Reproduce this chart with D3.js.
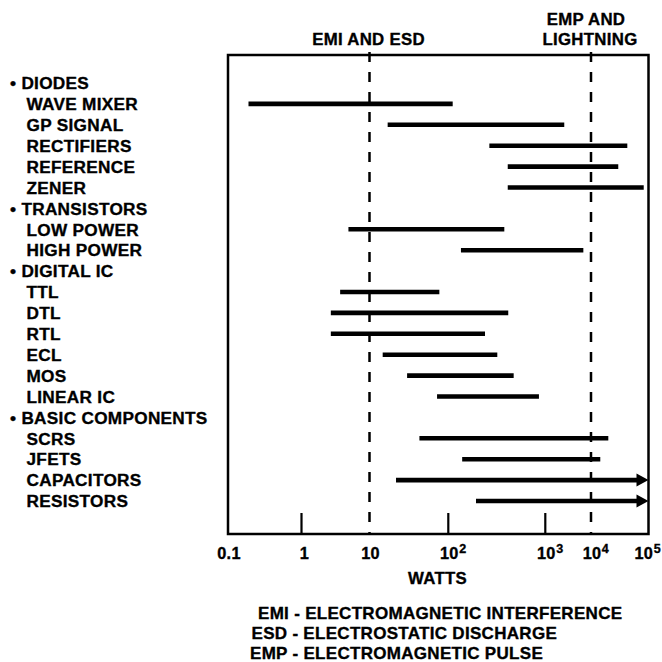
<!DOCTYPE html>
<html lang="en">
<head>
    <meta charset="UTF-8">
    <title>Transient Power Susceptibility</title>
    <style>
        body { margin: 0; background: #fff; }
        svg text {
            font-family: "Liberation Sans", Arial, sans-serif;
            font-weight: bold;
            fill: #000;
            stroke: #000;
            stroke-width: 0.35px;
            letter-spacing: 0.3px;
        }
    </style>
    <script src="https://d3js.org/d3.v7.min.js"></script>
</head>
<body>
    <div id="chart"></div>
    <script>
// rows of the chart, top to bottom
const labels = ["DIODES", "WAVE MIXER", "GP SIGNAL", "RECTIFIERS", "REFERENCE", "ZENER",
    "TRANSISTORS", "LOW POWER", "HIGH POWER",
    "DIGITAL IC", "TTL", "DTL", "RTL", "ECL", "MOS", "LINEAR IC",
    "BASIC COMPONENTS", "SCRS", "JFETS", "CAPACITORS", "RESISTORS"];
const groups = ["DIODES", "TRANSISTORS", "DIGITAL IC", "BASIC COMPONENTS"];

// damage ranges in watts
const devices = ["WAVE MIXER", "GP SIGNAL", "RECTIFIERS", "REFERENCE", "ZENER",
    "LOW POWER", "HIGH POWER", "TTL", "DTL", "RTL", "ECL", "MOS", "LINEAR IC",
    "SCRS", "JFETS", "CAPACITORS", "RESISTORS"];
const lowWatts = [0.19, 17, 265, 410, 410, 4.9, 135, 3.7, 2.7, 2.7, 14.7, 30, 72, 43, 139, 21.7, 193];
const highWatts = [111, 2600, 42800, 29800, 82600, 378, 6800, 77, 415, 239, 320, 472, 860, 20000, 14500, 100000, 100000];
const openEnded = ["CAPACITORS", "RESISTORS"];

// axis
const decades = [0.1, 1, 10, 100, 1000, 10000, 100000];
const tickBase = ["0.1", "1", "10", "10", "10", "10", "10"];
const tickExp = ["", "", "", "2", "3", "4", "5"];
const tickMarks = [1, 100, 1000];
const thresholds = [10, 10000];
const thresholdLabels = [["EMI AND ESD"], ["EMP AND", "LIGHTNING"]];

const notes = ["EMI - ELECTROMAGNETIC INTERFERENCE",
    "ESD - ELECTROSTATIC DISCHARGE",
    "EMP - ELECTROMAGNETIC PULSE"];

const W = 662, H = 662;
const svg = d3.select("#chart").append("svg")
    .attr("width", W).attr("height", H);

// the original decade spacing is uneven, so map log10 piecewise
const xLog = d3.scaleLinear()
    .domain(decades.map(Math.log10))
    .range([228, 301.5, 369.5, 448.3, 545.3, 591, 648.5]);
const x = v => xLog(Math.log10(v));

const y = d3.scalePoint().domain(labels).range([83, 501]);

const plotTop = 55, plotBottom = 534;

// frame
svg.append("rect")
    .attr("x", x(0.1)).attr("y", plotTop)
    .attr("width", x(100000) - x(0.1)).attr("height", plotBottom - plotTop)
    .attr("fill", "none").attr("stroke", "#000").attr("stroke-width", 2.5);

// row labels
svg.append("g").selectAll("text")
    .data(labels)
    .join("text")
    .attr("x", d => groups.includes(d) ? 10 : 26.5)
    .attr("y", d => y(d) + 6.2)
    .attr("font-size", 17.2)
    .text(d => groups.includes(d) ? "\u2022 " + d : d);

// tick marks
svg.append("g").selectAll("line")
    .data(tickMarks)
    .join("line")
    .attr("x1", d => x(d)).attr("x2", d => x(d))
    .attr("y1", plotBottom - 21).attr("y2", plotBottom)
    .attr("stroke", "#000").attr("stroke-width", 2.2);

// dashed thresholds
svg.append("g").selectAll("line")
    .data(thresholds)
    .join("line")
    .attr("x1", d => x(d)).attr("x2", d => x(d))
    .attr("y1", plotTop - 3).attr("y2", plotBottom)
    .attr("stroke", "#000").attr("stroke-width", 2.5)
    .attr("stroke-dasharray", "10,10");

const thr = svg.append("g").selectAll("text")
    .data(thresholds)
    .join("text")
    .attr("text-anchor", "middle")
    .attr("font-size", 16.8);
thr.selectAll("tspan")
    .data((d, i) => thresholdLabels[i].map((t, j, a) => ({t, j, n: a.length, v: d})))
    .join("tspan")
    .attr("x", d => x(d.v) - (d.n > 1 && d.j === 0 ? 5 : 1))
    .attr("y", d => 45 - (d.n - 1 - d.j) * 20)
    .text(d => d.t);

// bars
const bars = svg.append("g");
devices.forEach((dev, i) => {
    const x0 = x(lowWatts[i]), x1 = x(highWatts[i]);
    const yy = y(dev);
    const arrow = openEnded.includes(dev);
    bars.append("line")
        .attr("x1", x0).attr("x2", arrow ? x1 - 9 : x1)
        .attr("y1", yy).attr("y2", yy)
        .attr("stroke", "#000").attr("stroke-width", 4.6);
    if (arrow) {
        bars.append("path")
            .attr("d", `M${x1 - 12},${yy - 6.5}L${x1},${yy}L${x1 - 12},${yy + 6.5}Z`)
            .attr("fill", "#000");
    }
});

// x tick labels with superscript exponents
const tl = svg.append("g");
decades.forEach((d, i) => {
    const base = tl.append("text")
        .attr("x", x(d) + (i === 1 ? 3 : 1))
        .attr("y", 558.5)
        .attr("text-anchor", "middle")
        .attr("font-size", 16.3)
        .text(tickBase[i]);
    if (tickExp[i]) {
        const w = base.node().getComputedTextLength();
        const sup = tl.append("text")
            .attr("x", x(d) + 1 + w / 2 + 0.5)
            .attr("y", 553)
            .attr("font-size", 12.5)
            .text(tickExp[i]);
        // keep the last label inside the page
        const overflow = x(d) + 1 + w / 2 + 0.5 + sup.node().getComputedTextLength() - (W - 1);
        if (overflow > 0) {
            base.attr("x", +base.attr("x") - overflow);
            sup.attr("x", +sup.attr("x") - overflow);
        }
    }
});

svg.append("text")
    .attr("x", 437.5).attr("y", 583.5)
    .attr("text-anchor", "middle")
    .attr("font-size", 16.8)
    .text("WATTS");

// abbreviations
const noteX = [258, 251.5, 250];
svg.append("g").selectAll("text")
    .data(notes)
    .join("text")
    .attr("x", (d, i) => noteX[i])
    .attr("y", (d, i) => 618.5 + i * 20)
    .attr("font-size", 17)
    .text(d => d);
    </script>
</body>
</html>
